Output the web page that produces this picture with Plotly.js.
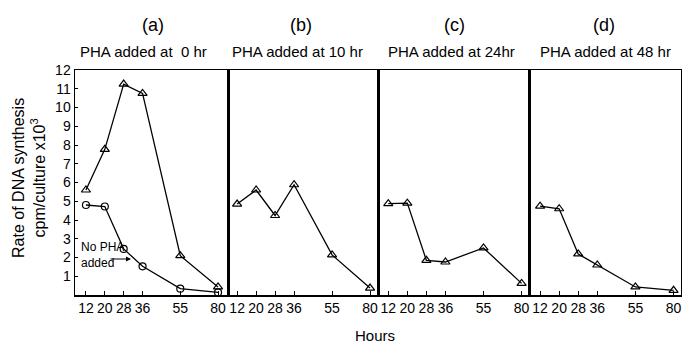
<!DOCTYPE html>
<html>
<head>
<meta charset="utf-8">
<script src="https://cdn.plot.ly/plotly-3.0.1.min.js"></script>
<style>html,body{margin:0;padding:0;background:#fff;}#chart{width:682px;height:345px;}</style>
</head>
<body>
<div id="chart"></div>
<script>
// Hour slots of the (non-uniform) original axis; gap slots keep the drawn spacing
const hourSlots = ['12', '20', '28', '36', 'gap1', '55', 'gap2', '80'];
const hours = ['12', '20', '28', '36', '55', '80'];
const hourTicks = ['12', '20', '28', '36', '55', '80'];

const panelLetters = ['(a)', '(b)', '(c)', '(d)'];
const panelTitles = ['PHA added at  0 hr', 'PHA added at 10 hr', 'PHA added at 24hr', 'PHA added at 48 hr'];

// Rate of DNA synthesis, cpm/culture x 10^3
const phaAt0 = [5.6, 7.77, 11.25, 10.75, 2.1, 0.43];
const noPha = [4.8, 4.72, 2.46, 1.53, 0.34, 0.14];
const phaAt10 = [4.85, 5.6, 4.24, 5.88, 2.14, 0.37];
const phaAt24 = [4.87, 4.9, 1.85, 1.76, 2.51, 0.62];
const phaAt48 = [4.74, 4.6, 2.19, 1.6, 0.43, 0.25];

const yTicks = [1, 2, 3, 4, 5, 6, 7, 8, 9, 10, 11, 12];

const FONT = '"Liberation Sans", Arial, sans-serif';
const lineStyle = {color: '#000', width: 1.3};
const triMarker = {symbol: 'triangle-up-open', size: 8, color: '#000', line: {width: 1.2, color: '#000'}};
const circMarker = {symbol: 'circle-open', size: 7, color: '#000', line: {width: 1.2, color: '#000'}};

const series = [phaAt0, phaAt10, phaAt24, phaAt48];
const traces = [];
series.forEach((s, i) => {
  const suffix = i === 0 ? '' : String(i + 1);
  traces.push({x: hours, y: s, xaxis: 'x' + suffix, yaxis: 'y' + suffix, type: 'scatter',
    mode: 'lines+markers', line: lineStyle, marker: triMarker, cliponaxis: false});
});
traces.push({x: hours, y: noPha, xaxis: 'x', yaxis: 'y', type: 'scatter',
  mode: 'lines+markers', line: lineStyle, marker: circMarker, cliponaxis: false});

const domains = [[0, 0.2525], [0.2525, 0.5], [0.5, 0.7508], [0.7508, 1]];
const ranges = [[-0.58, 7.53], [-0.48, 7.42], [-0.54, 7.44], [-0.53, 7.39]];

const layout = {
  width: 682, height: 345,
  margin: {l: 75, r: 1, t: 70, b: 50},
  paper_bgcolor: '#fff', plot_bgcolor: '#fff',
  showlegend: false,
  font: {family: FONT, size: 14, color: '#000'},
  annotations: []
};

domains.forEach((d, i) => {
  const suffix = i === 0 ? '' : String(i + 1);
  layout['xaxis' + suffix] = {
    domain: d, type: 'category', categoryorder: 'array', categoryarray: hourSlots,
    range: ranges[i], tickmode: 'array', tickvals: hourTicks, ticktext: hourTicks, tickangle: 0,
    ticks: 'inside', ticklen: 4, tickcolor: '#000', showgrid: false, zeroline: false,
    showline: true, linecolor: '#000', linewidth: 1.5, mirror: true,
    anchor: 'y' + suffix, tickfont: {family: FONT, size: 14, color: '#000'}, fixedrange: true
  };
  layout['yaxis' + suffix] = {
    domain: [0, 1], range: [0, 12], tickvals: yTicks, ticktext: yTicks.map(String),
    showticklabels: i === 0, ticks: i === 0 ? 'inside' : '', ticklen: 3, tickcolor: '#000',
    showgrid: false, zeroline: false, showline: true, linecolor: '#000', linewidth: 1.5,
    mirror: true, anchor: 'x' + suffix, tickfont: {family: FONT, size: 14, color: '#000'},
    fixedrange: true
  };
});

const letterX = [0.1287, 0.373, 0.627, 0.873];
const titleX = [0.113, 0.367, 0.621, 0.876];
panelLetters.forEach((t, i) => {
  layout.annotations.push({text: t, xref: 'paper', yref: 'paper', x: letterX[i], y: 1.2,
    xanchor: 'center', yanchor: 'middle', showarrow: false, font: {family: FONT, size: 18, color: '#000'}});
  layout.annotations.push({text: panelTitles[i], xref: 'paper', yref: 'paper', x: titleX[i], y: 1.08,
    xanchor: 'center', yanchor: 'middle', showarrow: false, font: {family: FONT, size: 15, color: '#000'}});
});

layout.annotations.push({text: 'Rate of DNA synthesis<br>cpm/culture x10<sup>3</sup>', xref: 'paper', yref: 'paper',
  x: -0.076, y: 0.52, xanchor: 'center', yanchor: 'middle', textangle: -90, showarrow: false,
  font: {family: FONT, size: 16, color: '#000'}});
layout.annotations.push({text: 'Hours', xref: 'paper', yref: 'paper', x: 0.495, y: -0.18,
  xanchor: 'center', yanchor: 'middle', showarrow: false, font: {family: FONT, size: 15, color: '#000'}});
layout.annotations.push({text: 'No PHA<br>added', xref: 'paper', yref: 'paper', x: 0.006, y: 0.176,
  xanchor: 'left', yanchor: 'middle', align: 'left', showarrow: false,
  font: {family: FONT, size: 12, color: '#000'}});
layout.annotations.push({text: '', xref: 'paper', yref: 'paper', x: 0.0924, y: 0.16,
  showarrow: true, arrowhead: 2, arrowsize: 1, arrowwidth: 1, arrowcolor: '#000', ax: -22, ay: 0});

Plotly.newPlot('chart', traces, layout, {staticPlot: true, displayModeBar: false});
</script>
</body>
</html>
